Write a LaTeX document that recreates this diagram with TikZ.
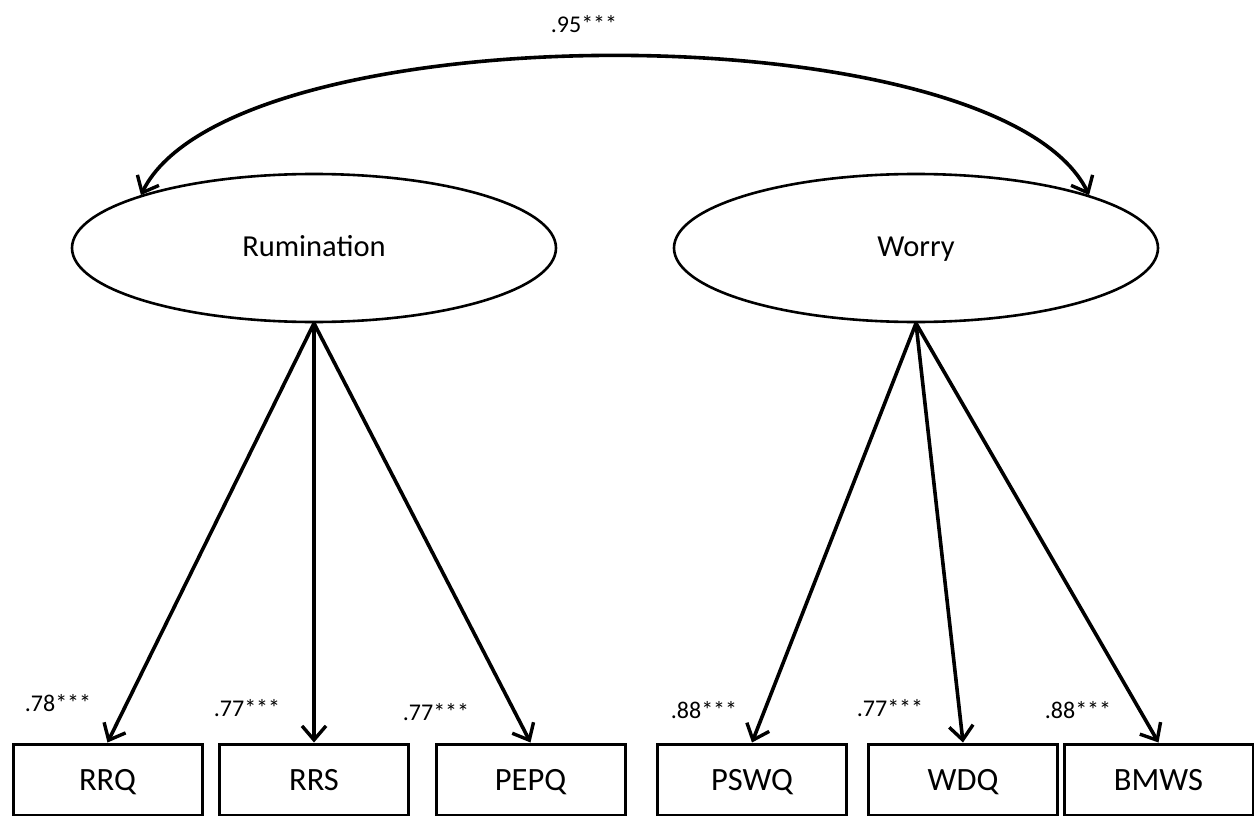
\documentclass[tikz,border=0pt]{standalone}
\usepackage{fontspec}
\setmainfont{Carlito}
\usetikzlibrary{arrows.meta,shapes.geometric}
\begin{document}
\begin{tikzpicture}[x=1pt,y=-1pt,
  latent/.style={ellipse,draw,line width=2.6pt,minimum width=484pt,minimum height=148pt,
    inner sep=0pt,text height=21pt,text depth=5pt,font=\fontsize{30.5}{36}\selectfont},
  indicator/.style={rectangle,draw,line width=3pt,minimum width=189pt,minimum height=71pt,
    inner sep=0pt,text height=22pt,text depth=1pt,font=\fontsize{32.5}{38}\selectfont},
  coef/.style={font=\fontsize{24}{28}\selectfont,inner sep=0pt,text height=17pt,text depth=0pt},
  barb/.tip={Straight Barb[length=14pt,width=24pt,line width=3.4pt]},
  load/.style={line width=3.6pt,-barb},
  covar/.style={line width=3.6pt,barb-barb},
]
\useasboundingbox (0,0) rectangle (1254,816);

% latent factors
\node[latent] (rum) at (314,248) {Rumination};
\node[latent] (wor) at (916,248) {Worry};

% observed indicators
\node[indicator] (rrq)  at (107.5,779.5) {RRQ};
\node[indicator] (rrs)  at (314,779.5)   {RRS};
\node[indicator] (pepq) at (530.5,779.5) {PEPQ};
\node[indicator] (pswq) at (752,779.5)   {PSWQ};
\node[indicator] (wdq)  at (963,779.5)   {WDQ};
\node[indicator] (bmws) at (1158.5,779.5){BMWS};

% factor covariance
\draw[covar] (rum.163) .. controls +(90,-185) and +(-90,-185) .. (wor.17);
\node[coef] (c95) at (584,24) {.95***};

% factor loadings
\draw[load] (rum.south) -- (rrq.north);
\draw[load] (rum.south) -- (rrs.north);
\draw[load] (rum.south) -- (pepq.north);
\draw[load] (wor.south) -- (pswq.north);
\draw[load] (wor.south) -- (wdq.north);
\draw[load] (wor.south) -- (bmws.north);

\node[coef] (c78) at (58,703)   {.78***};
\node[coef] (c77a) at (247,708) {.77***};
\node[coef] (c77b) at (436,712) {.77***};
\node[coef] (c88a) at (704,710) {.88***};
\node[coef] (c77c) at (890,708) {.77***};
\node[coef] (c88b) at (1078,710){.88***};
\end{tikzpicture}
\end{document}
